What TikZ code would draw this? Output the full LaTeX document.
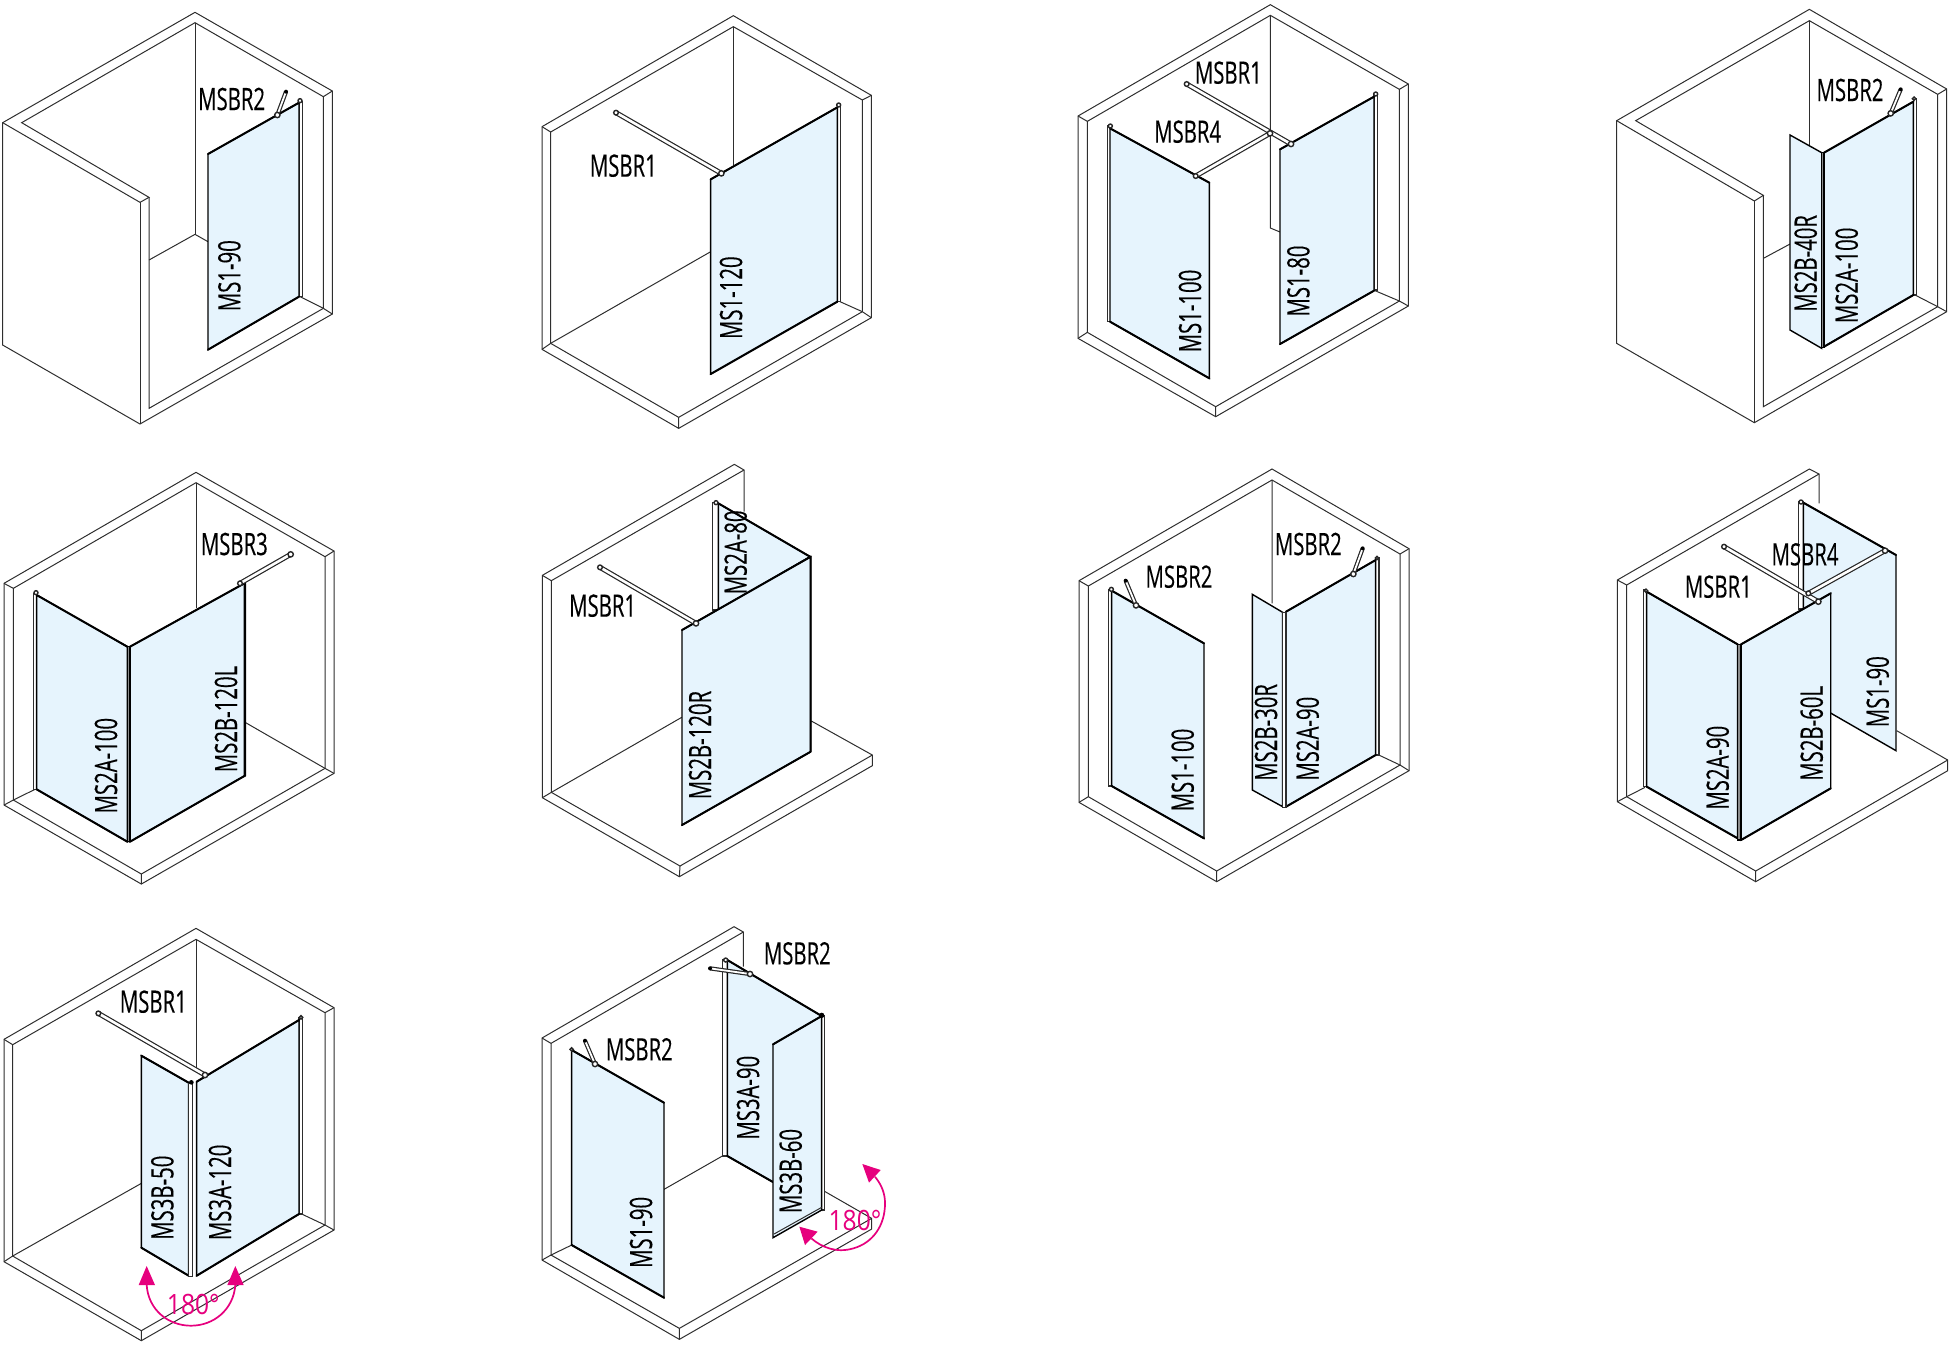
\documentclass[tikz,border=0pt]{standalone}
\usepackage{fontspec}
\newfontfamily\labfont[FakeStretch=0.66,FakeBold=0.25]{Open Sans}
\newfontfamily\degfont[FakeStretch=0.88]{Open Sans}
\definecolor{glassc}{HTML}{E6F4FD}
\definecolor{wallc}{HTML}{2E2E2E}
\definecolor{pinkc}{HTML}{E6007E}
\tikzset{
  zoomed/.style 2 args={xshift=#1*0.5pt,yshift=-#2*0.5pt,x=0.16667pt,y=-0.16667pt},
  wall/.style={draw=wallc,line width=0.5pt,line join=miter},
  glass/.style={fill=glassc,draw=black,line width=0.7pt,line join=miter},
  edge/.style={draw=black,line width=1pt,line cap=round},
  prof/.style={fill=white,draw=wallc,line width=0.7pt},
  cprof/.style={fill=black!45,draw=black,line width=0.7pt},
  rod/.style={draw=black!85,line width=0.6pt,double=white,double distance=1.3pt},
  armrod/.style={draw=black!85,line width=0.6pt,double=white,double distance=0.9pt},
  capm/.style={fill=white,draw=black!85,line width=0.7pt},
  hlabel/.style={font=\labfont\fontsize{15.4}{15.4}\selectfont,text=black,inner sep=0pt},
  vlabel/.style={hlabel,rotate=90},
  plabel/.style={font=\degfont\fontsize{14}{14}\selectfont,text=pinkc,inner sep=0pt},
  pinkarc/.style={draw=pinkc,line width=0.85pt},
  pinkhead/.style={fill=pinkc,draw=none}
}
\newcommand\hl[3]{\node[hlabel] (#1) at (#2) {#3};}
\newcommand\vl[3]{\node[vlabel] (#1) at (#2) {#3};}
\newcommand\rodb[2]{\draw[rod] (#1)--(#2); \draw[capm] (#1) circle[radius=7]; \draw[capm] (#2) circle[radius=8];}
\newcommand\armb{}
\renewcommand\armb[2]{\draw[armrod] (#1)--(#2); \fill[black] (#1) circle[radius=6]; \draw[capm] (#2) circle[radius=8];}
\begin{document}
\begin{tikzpicture}[x=0.5pt,y=-0.5pt]
\useasboundingbox (0,0) rectangle (1952,1346);
% ---------- D1
\begin{scope}[zoomed={0}{0}]
\draw[wall] (8,368)--(585,37)--(997,273)--(997,942)--(420,1272)--(8,1035)--cycle;
\draw[wall] (8,368)--(420,607)--(447,592)--(65,368)--(585,68)--(970,290)--(997,273);
\draw[wall] (420,607)--(420,1272);
\draw[wall] (447,592)--(447,1225)--(970,925)--(970,290);
\draw[wall] (970,925)--(997,942);
\draw[wall] (585,68)--(585,703);
\draw[wall] (447,780)--(585,703)--(624,725);
\draw[wall] (900,890)--(970,925);
\draw[prof] (897,305) rectangle (908,890);
\draw[glass] (624,462)--(897,308)--(897,890)--(624,1049)--cycle;
\draw[edge] (624,462)--(897,308) (624,1049)--(897,890);
\draw[capm] (900,302) circle[radius=6];
\armb{858,275}{832,345}
\hl{a1}{695,297}{MSBR2}
\vl{a2}{688,827}{MS1-90}
\end{scope}
% ---------- D2
\begin{scope}[zoomed={520}{0}]
\draw[wall] (66,380)--(640,47)--(1054,286)--(1054,953)--(476,1285)--(66,1048)--cycle;
\draw[wall] (92,396)--(640,80)--(1027,300)--(1027,935)--(476,1252)--(92,1030)--cycle;
\draw[wall] (66,380)--(92,396) (1054,286)--(1027,300) (1054,953)--(1027,935) (476,1285)--(476,1252) (66,1048)--(92,1030);
\draw[wall] (640,80)--(640,495);
\draw[wall] (92,1030)--(572,755) (960,905)--(1027,935);
\draw[prof] (952,315) rectangle (962,905);
\draw[glass] (572,538)--(952,322)--(952,905)--(572,1122)--cycle;
\draw[edge] (572,538)--(952,322) (572,1122)--(952,905);
\draw[capm] (956,315) circle[radius=6];
\rodb{288,338}{604,520}
\hl{b1}{310,497}{MSBR1}
\vl{b2}{633,893}{MS1-120}
\end{scope}
% ---------- D3
\begin{scope}[zoomed={1060}{0}]
\draw[wall] (54,348)--(631,14)--(1045,252)--(1045,918)--(467,1250)--(54,1015)--cycle;
\draw[wall] (82,364)--(631,46)--(1018,268)--(1018,903)--(467,1220)--(82,997)--cycle;
\draw[wall] (54,348)--(82,364) (1045,252)--(1018,268) (1045,918)--(1018,903) (467,1250)--(467,1220) (54,1015)--(82,997);
\draw[wall] (631,46)--(631,684)--(660,696);
\draw[wall] (945,872)--(1018,903);
\draw[prof] (143,378) rectangle (154,965);
\draw[prof] (942,282) rectangle (953,870);
\draw[glass] (150,385)--(448,548)--(448,1135)--(150,965)--cycle;
\draw[edge] (150,385)--(448,548) (150,965)--(448,1135);
\draw[glass] (660,448)--(942,290)--(942,872)--(660,1032)--cycle;
\draw[edge] (660,448)--(942,290) (660,1032)--(942,872);
\draw[capm] (151,378) circle[radius=6];
\draw[capm] (947,282) circle[radius=6];
\rodb{380,252}{693,432}
\rodb{407,528}{630,400}
\hl{c1}{505,218}{MSBR1}
\hl{c2}{383,395}{MSBR4}
\vl{c3}{390,933}{MS1-100}
\vl{c4}{715,843}{MS1-80}
\end{scope}
% ---------- D4
\begin{scope}[zoomed={1600}{0}]
\draw[wall] (50,362)--(628,28)--(1040,267)--(1040,935)--(463,1268)--(50,1030)--cycle;
\draw[wall] (50,362)--(463,603)--(490,586)--(107,362)--(628,62)--(1013,283)--(1040,267);
\draw[wall] (463,603)--(463,1268);
\draw[wall] (490,586)--(490,1220)--(1013,920)--(1013,283);
\draw[wall] (1013,920)--(1040,935);
\draw[wall] (628,62)--(628,435);
\draw[wall] (490,775)--(570,732) (945,885)--(1013,920);
\draw[prof] (940,295) rectangle (950,885);
\draw[glass] (570,405)--(665,458)--(665,1045)--(570,990)--cycle;
\draw[glass] (672,458)--(940,305)--(940,885)--(672,1040)--cycle;
\draw[edge] (672,458)--(940,305) (672,1040)--(940,885);
\draw[cprof] (665,458) rectangle (672,1043);
\draw[capm] (942,296) circle[radius=5];
\armb{902,268}{872,340}
\hl{d1}{750,270}{MSBR2}
\vl{d2}{617,790}{MS2B-40R}
\vl{d3}{740,826}{MS2A-100}
\end{scope}
% ---------- D5
\begin{scope}[zoomed={0}{460}]
\draw[wall] (12,370)--(588,37)--(1002,273)--(1002,940)--(424,1272)--(12,1035)--cycle;
\draw[wall] (40,385)--(588,68)--(975,290)--(975,925)--(424,1242)--(40,1020)--cycle;
\draw[wall] (12,370)--(40,385) (1002,273)--(975,290) (1002,940)--(975,925) (424,1272)--(424,1242) (12,1035)--(40,1020);
\draw[wall] (588,68)--(588,445);
\draw[wall] (737,788)--(975,925) (40,1020)--(105,988);
\draw[prof] (100,400) rectangle (110,988);
\draw[glass] (110,405)--(382,560)--(382,1145)--(110,988)--cycle;
\draw[edge] (110,405)--(382,560) (110,988)--(382,1145);
\draw[glass] (390,560)--(733,370)--(733,948)--(390,1145)--cycle;
\draw[edge] (390,560)--(733,370) (390,1145)--(733,948) (735,370)--(735,948);
\draw[cprof] (382,560) rectangle (390,1145);
\draw[capm] (108,398) circle[radius=6];
\rodb{720,370}{872,283}
\hl{e1}{703,252}{MSBR3}
\vl{e2}{318,917}{MS2A-100}
\vl{e3}{678,777}{MS2B-120L}
\end{scope}
% ---------- D6
\begin{scope}[zoomed={520}{460}]
\draw[wall] (672,155)--(672,30)--(643,13)--(67,346)--(67,1013)--(478,1250)--(1057,917)--(1057,885)--(874,783);
\draw[wall] (67,346)--(94,362)--(672,30);
\draw[wall] (94,362)--(94,997)--(480,1218)--(1057,885);
\draw[wall] (478,1250)--(480,1218) (67,1013)--(94,997);
\draw[wall] (94,997)--(485,772);
\draw[prof] (578,128) rectangle (595,450);
\draw[glass] (595,130)--(870,290)--(595,450)--cycle;
\draw[edge] (595,130)--(870,290);
\draw[glass] (486,510)--(872,290)--(872,875)--(486,1095)--cycle;
\draw[edge] (486,510)--(872,290) (486,1095)--(872,875) (872,290)--(872,875);
\draw[capm] (588,128) circle[radius=6];
\rodb{240,322}{528,490}
\hl{f1}{248,437}{MSBR1}
\vl{f2}{647,277}{MS2A-80}
\vl{f3}{540,855}{MS2B-120R}
\end{scope}
% ---------- D7
\begin{scope}[zoomed={1060}{460}]
\draw[wall] (57,362)--(636,27)--(1047,266)--(1047,932)--(470,1265)--(57,1027)--cycle;
\draw[wall] (85,378)--(636,60)--(1020,282)--(1020,915)--(470,1233)--(85,1010)--cycle;
\draw[wall] (57,362)--(85,378) (1047,266)--(1020,282) (1047,932)--(1020,915) (470,1265)--(470,1233) (57,1027)--(85,1010);
\draw[wall] (636,60)--(636,430) (950,882)--(1020,915);
\draw[prof] (146,388) rectangle (155,978);
\draw[glass] (155,392)--(432,550)--(432,1135)--(155,978)--cycle;
\draw[edge] (155,392)--(432,550) (155,978)--(432,1135);
\draw[prof] (947,292) rectangle (957,885);
\draw[glass] (577,403)--(668,457)--(668,1040)--(577,990)--cycle;
\draw[glass] (678,455)--(947,300)--(947,885)--(678,1040)--cycle;
\draw[edge] (678,455)--(947,300) (678,1040)--(947,885);
\draw[prof] (668,457) rectangle (678,1042);
\draw[capm] (154,388) circle[radius=6];
\draw[capm] (951,294) circle[radius=5];
\armb{197,362}{228,436}
\armb{908,265}{880,342}
\hl{g1}{357,350}{MSBR2}
\vl{g2}{368,930}{MS1-100}
\hl{g3}{745,252}{MSBR2}
\vl{g4}{618,817}{MS2B-30R}
\vl{g5}{743,836}{MS2A-90}
\end{scope}
% ---------- D8
\begin{scope}[zoomed={1600}{460}]
\draw[wall] (657,130)--(657,42)--(628,27)--(52,360)--(52,1025)--(467,1265)--(1043,932)--(1043,900)--(890,812);
\draw[wall] (52,360)--(80,375)--(657,42);
\draw[wall] (80,375)--(80,1010)--(467,1233)--(1043,900);
\draw[wall] (467,1265)--(467,1233) (52,1025)--(80,1010) (80,1010)--(135,982);
\draw[prof] (595,125) rectangle (610,447);
\draw[glass] (610,128)--(888,285)--(888,872)--(610,712)--cycle;
\draw[edge] (610,128)--(888,285);
\draw[prof] (130,390) rectangle (140,980);
\draw[glass] (140,395)--(413,553)--(413,1135)--(140,980)--cycle;
\draw[edge] (140,395)--(413,553) (140,980)--(413,1135);
\draw[glass] (423,553)--(692,400)--(692,985)--(423,1140)--cycle;
\draw[edge] (423,553)--(692,400) (423,1140)--(692,985);
\draw[cprof] (413,553) rectangle (423,1140);
\draw[capm] (138,392) circle[radius=5];
\draw[capm] (603,126) circle[radius=6];
\rodb{372,260}{655,425}
\rodb{625,400}{855,272}
\hl{h1}{355,380}{MSBR1}
\hl{h2}{615,283}{MSBR4}
\vl{h3}{353,923}{MS2A-90}
\vl{h4}{635,820}{MS2B-60L}
\vl{h5}{833,695}{MS1-90}
\end{scope}
% ---------- D9
\begin{scope}[zoomed={0}{910}]
\draw[wall] (12,388)--(588,55)--(1002,293)--(1002,960)--(424,1292)--(12,1055)--cycle;
\draw[wall] (38,404)--(588,88)--(975,308)--(975,945)--(424,1262)--(38,1038)--cycle;
\draw[wall] (12,388)--(38,404) (1002,293)--(975,308) (1002,960)--(975,945) (424,1292)--(424,1262) (12,1055)--(38,1038);
\draw[wall] (588,88)--(588,480);
\draw[wall] (38,1038)--(424,820) (905,912)--(975,945);
\draw[prof] (897,322) rectangle (908,912);
\draw[glass] (424,437)--(566,518)--(566,1097)--(424,1013)--cycle;
\draw[edge] (424,437)--(566,518) (424,1013)--(566,1097);
\draw[glass] (590,515)--(897,330)--(897,912)--(590,1097)--cycle;
\draw[edge] (590,515)--(897,330) (590,1097)--(897,912);
\draw[prof] (566,520) rectangle (578,1100);
\draw[capm] (903,322) circle[radius=5];
\fill[black] (574,517) circle[radius=7];
\rodb{295,310}{615,495}
\hl{i1}{460,275}{MSBR1}
\vl{i2}{487,863}{MS3B-50}
\vl{i3}{660,847}{MS3A-120}
\draw[pinkarc] (440,1125) .. controls (445,1200) and (505,1247) .. (573,1247) .. controls (640,1247) and (700,1200) .. (706,1125);
\fill[pinkhead] (440,1068)--(465,1125)--(416,1125)--cycle;
\fill[pinkhead] (706,1068)--(731,1125)--(682,1125)--cycle;
\node[plabel] (i4) at (580,1183) {180°};
\end{scope}
% ---------- D10
\begin{scope}[zoomed={520}{910}]
\draw[wall] (670,170)--(670,66)--(642,50)--(66,384)--(66,1050)--(478,1288)--(1055,957)--(1055,925)--(912,843);
\draw[wall] (66,384)--(93,400)--(670,66);
\draw[wall] (93,400)--(93,1035)--(478,1255)--(1055,925);
\draw[wall] (478,1288)--(478,1255) (66,1050)--(93,1035) (93,1035)--(155,1005) (432,838)--(607,738);
\draw[glass] (155,420)--(432,578)--(432,1163)--(155,1005)--cycle;
\draw[edge] (155,420)--(432,578) (155,1005)--(432,1163);
\draw[prof] (607,148) rectangle (622,738);
\draw[glass] (622,150)--(905,318)--(905,900)--(622,738)--cycle;
\draw[edge] (622,150)--(905,318) (622,738)--(759,816);
\draw[prof] (905,318) rectangle (913,900);
\draw[glass] (759,403)--(905,318)--(905,900)--(759,983)--cycle;
\draw[edge] (759,403)--(905,318);
\draw[wall] (762,972)--(905,892);
\fill[black] (905,316) circle[radius=8];
\draw[capm] (617,150) circle[radius=6];
\draw[capm] (155,418) circle[radius=5];
\armb{195,392}{225,462}
\armb{570,175}{690,192}
\hl{j1}{358,418}{MSBR2}
\vl{j2}{363,967}{MS1-90}
\hl{j3}{832,130}{MSBR2}
\vl{j4}{684,563}{MS3A-90}
\vl{j5}{812,783}{MS3B-60}
\draw[pinkarc] (874,985) .. controls (905,1012) and (950,1030) .. (1000,1015) .. controls (1060,998) and (1095,945) .. (1095,880) .. controls (1095,850) and (1085,825) .. (1065,800);
\fill[pinkhead] (838,950)--(893,965)--(855,1005)--cycle;
\fill[pinkhead] (1027,762)--(1082,780)--(1047,818)--cycle;
\node[plabel] (j6) at (1005,930) {180°};
\end{scope}
\end{tikzpicture}
\end{document}
